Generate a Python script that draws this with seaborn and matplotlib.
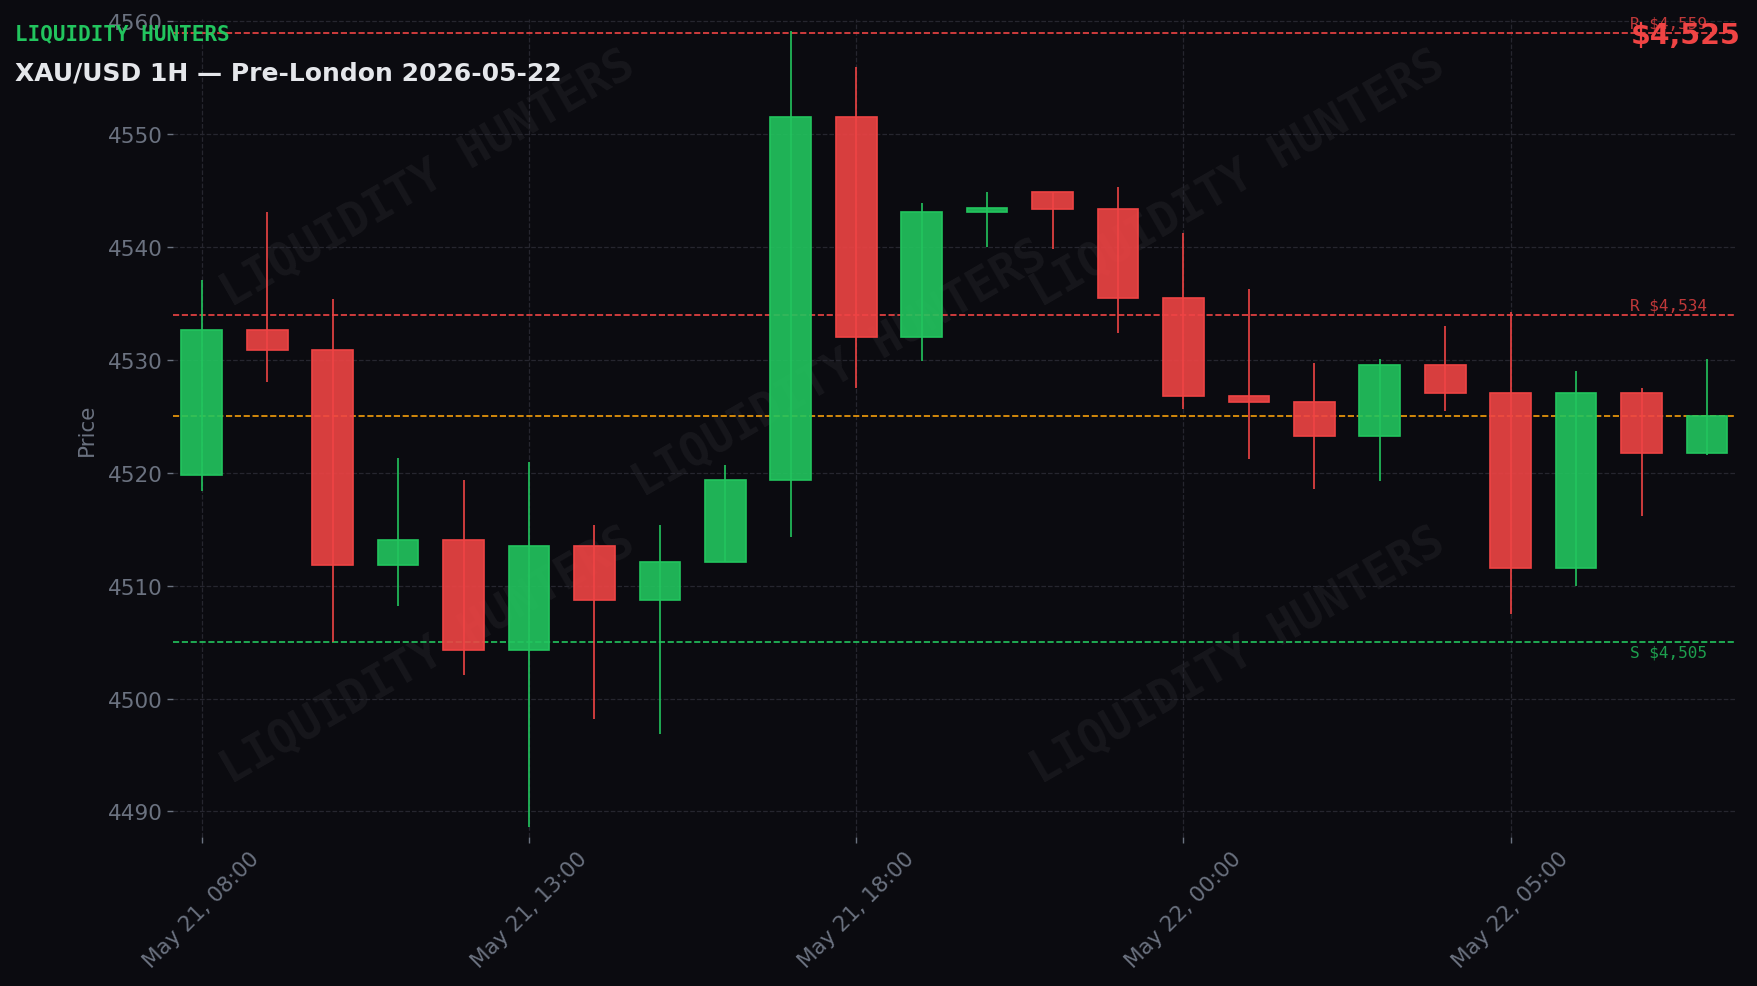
import numpy as np
import pandas as pd
import matplotlib
matplotlib.use('Agg')
import matplotlib.pyplot as plt
from matplotlib.colors import to_rgba
import seaborn as sns

# 1H candles, May 21 08:00 -> May 22 07:00 (one hour missing around the daily break)
times = ['2026-05-21 08:00', '2026-05-21 09:00', '2026-05-21 10:00', '2026-05-21 11:00',
         '2026-05-21 12:00', '2026-05-21 13:00', '2026-05-21 14:00', '2026-05-21 15:00',
         '2026-05-21 16:00', '2026-05-21 17:00', '2026-05-21 18:00', '2026-05-21 19:00',
         '2026-05-21 20:00', '2026-05-21 21:00', '2026-05-21 22:00', '2026-05-22 00:00',
         '2026-05-22 01:00', '2026-05-22 02:00', '2026-05-22 03:00', '2026-05-22 04:00',
         '2026-05-22 05:00', '2026-05-22 06:00', '2026-05-22 07:00', '2026-05-22 08:00']
opens = [4519.8, 4532.7, 4530.9, 4511.8, 4514.1, 4504.3, 4513.5, 4508.7, 4512.1, 4519.4,
         4551.5, 4532.0, 4543.1, 4544.9, 4543.4, 4535.5, 4526.8, 4526.3, 4523.3, 4529.6,
         4527.1, 4511.6, 4527.1, 4521.8]
highs = [4537.1, 4543.1, 4535.4, 4521.3, 4519.4, 4521.0, 4515.4, 4515.4, 4520.7, 4559.2,
         4556.0, 4543.9, 4544.9, 4544.9, 4545.3, 4541.3, 4536.3, 4529.7, 4530.1, 4533.0,
         4534.3, 4529.0, 4527.5, 4530.1]
lows = [4518.4, 4528.1, 4505.0, 4508.2, 4502.1, 4488.6, 4498.2, 4496.9, 4512.1, 4514.3,
        4527.5, 4529.9, 4540.0, 4539.8, 4532.4, 4525.7, 4521.2, 4518.6, 4519.3, 4525.5,
        4507.5, 4510.0, 4516.2, 4521.6]
closes = [4532.7, 4530.9, 4511.8, 4514.1, 4504.3, 4513.5, 4508.7, 4512.1, 4519.4, 4551.5,
          4532.0, 4543.1, 4543.5, 4543.4, 4535.5, 4526.8, 4526.3, 4523.3, 4529.6, 4527.1,
          4511.6, 4527.1, 4521.8, 4525.0]

resistance = [4559, 4534]
support = [4505]
last_price = 4525

BG = '#0b0b10'
GREEN = '#22c55e'
RED = '#ef4444'
ORANGE = '#f59e0b'
GRID = '#26262f'
MUTED = '#6b7280'

sns.set_theme(style='dark', rc={'axes.facecolor': BG, 'figure.facecolor': BG,
                                'axes.edgecolor': BG, 'text.color': MUTED,
                                'xtick.color': MUTED, 'ytick.color': MUTED,
                                'axes.labelcolor': MUTED})
plt.rcParams['font.family'] = ['DejaVu Sans']

df = pd.DataFrame({'time': pd.to_datetime(times), 'open': opens, 'high': highs,
                   'low': lows, 'close': closes})
df['x'] = np.arange(len(df))
up = df['close'] >= df['open']
colors = [GREEN if u else RED for u in up]
faces = [to_rgba(c, 0.9) for c in colors]

fig = plt.figure(figsize=(17.58, 9.87), dpi=100)
ax = fig.add_axes([0.0984, 0.1505, 0.8886, 0.829])

# watermark
for wx, wy in [(0.163, 0.805), (0.427, 0.573), (0.682, 0.805), (0.163, 0.223), (0.682, 0.223)]:
    ax.text(wx, wy, 'LIQUIDITY HUNTERS', transform=ax.transAxes, rotation=30,
            ha='center', va='center', fontsize=33, family='DejaVu Sans Mono',
            fontweight='bold', color='white', alpha=0.05, zorder=0)

# candles
ax.vlines(df['x'], df['low'], df['high'], colors=colors, lw=1.2, zorder=2)
body_bottom = np.minimum(df['open'], df['close'])
body_h = (df['close'] - df['open']).abs()
ax.bar(df['x'], body_h, bottom=body_bottom, width=0.62, color=faces,
       edgecolor=colors, linewidth=1.2, zorder=3)

# levels
n = len(df)
for lvl in resistance:
    ax.axhline(lvl, color=RED, ls='--', lw=1.2, zorder=1)
    ax.text(n - 1, lvl + 0.2, f'R ${lvl:,.0f}', ha='right', va='bottom', color=RED,
            alpha=0.8, fontsize=11.5, family='DejaVu Sans Mono')
for lvl in support:
    ax.axhline(lvl, color=GREEN, ls='--', lw=1.2, zorder=1)
    ax.text(n - 1, lvl - 0.2, f'S ${lvl:,.0f}', ha='right', va='top', color=GREEN,
            alpha=0.8, fontsize=11.5, family='DejaVu Sans Mono')
ax.axhline(last_price, color=ORANGE, ls='--', lw=1.2, zorder=1)

ax.set_xlim(-0.44, n - 1 + 0.43)
ax.set_ylim(4487.7, 4560.2)
ax.set_yticks(np.arange(4490, 4561, 10))
tick_idx = list(range(0, n, 5))
ax.set_xticks(tick_idx)
ax.set_xticklabels([df['time'][i].strftime('%b %d, %H:%M') for i in tick_idx],
                   rotation=45, ha='center')
ax.tick_params(axis='both', labelsize=15.5, colors=MUTED, length=4, width=1,
               bottom=True, left=True)
ax.set_ylabel('Price', fontsize=15.5, color=MUTED, labelpad=8)
ax.grid(True, color=GRID, ls='--', lw=0.9)
for s in ax.spines.values():
    s.set_visible(False)

fig.text(0.0083, 0.975, 'LIQUIDITY HUNTERS', family='DejaVu Sans Mono', fontsize=15,
         fontweight='bold', color=GREEN, ha='left', va='top')
fig.text(0.0083, 0.938, 'XAU/USD 1H \u2014 Pre-London 2026-05-22', fontsize=18,
         fontweight='bold', color='#e5e7eb', ha='left', va='top')
fig.text(0.990, 0.978, f'${last_price:,.0f}', fontsize=20.5, fontweight='bold',
         color=RED, ha='right', va='top')

fig.savefig('out.png', dpi=100, facecolor=BG)
